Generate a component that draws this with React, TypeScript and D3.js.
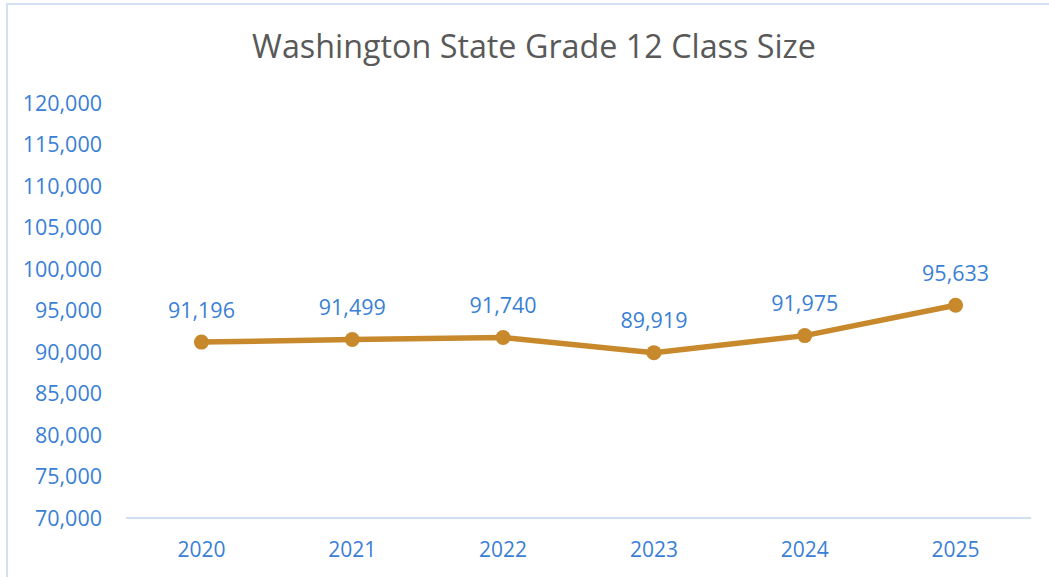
import React, { useRef, useEffect } from 'react';
import * as d3 from 'd3';

const years = ['2020', '2021', '2022', '2023', '2024', '2025'];
const classSize = [91196, 91499, 91740, 89919, 91975, 95633];
const yTicks = [70000, 75000, 80000, 85000, 90000, 95000, 100000, 105000, 110000, 115000, 120000];

const App = () => {
  const ref = useRef<SVGSVGElement | null>(null);

  useEffect(() => {
    if (!ref.current) return;
    const width = 1049;
    const height = 577;
    const blue = '#3a7fd5';
    const font = '"Open Sans", sans-serif';

    const svg = d3.select(ref.current);
    svg.selectAll('*').remove();
    svg.attr('width', width).attr('height', height);

    svg.append('rect')
      .attr('x', 0).attr('y', 0).attr('width', width).attr('height', height)
      .attr('fill', '#fff');

    // chart border
    svg.append('rect')
      .attr('x', 7).attr('y', 4).attr('width', 1060).attr('height', 600)
      .attr('fill', 'none').attr('stroke', '#d3e2f2').attr('stroke-width', 2);

    const x = d3.scaleBand<string>().domain(years).range([126, 1031]);
    const y = d3.scaleLinear().domain([70000, 120000]).range([518, 103]);

    svg.append('text')
      .attr('x', 534).attr('y', 58)
      .attr('text-anchor', 'middle')
      .style('font-family', font)
      .style('font-size', '32.3px')
      .style('fill', '#595959')
      .text('Washington State Grade 12 Class Size');

    // y tick labels
    svg.append('g').selectAll('text')
      .data(yTicks)
      .join('text')
      .attr('x', 102)
      .attr('y', d => y(d))
      .attr('dy', '0.36em')
      .attr('text-anchor', 'end')
      .style('font-family', font)
      .style('font-size', '21.5px')
      .style('fill', blue)
      .text(d => d3.format(',')(d));

    // x axis line
    svg.append('line')
      .attr('x1', 126).attr('x2', 1031)
      .attr('y1', y(70000)).attr('y2', y(70000))
      .attr('stroke', '#cfdff0').attr('stroke-width', 2);

    svg.append('g').selectAll('text')
      .data(years)
      .join('text')
      .attr('x', d => x(d)! + x.bandwidth() / 2)
      .attr('y', 557)
      .attr('text-anchor', 'middle')
      .style('font-family', font)
      .style('font-size', '21px')
      .style('fill', blue)
      .text(d => d);

    const pts = years.map((yr, i) => ({ yr, v: classSize[i] }));
    const line = d3.line<{ yr: string; v: number }>()
      .x(d => x(d.yr)! + x.bandwidth() / 2)
      .y(d => y(d.v));

    svg.append('path')
      .datum(pts)
      .attr('d', line)
      .attr('fill', 'none')
      .attr('stroke', '#c8892c')
      .attr('stroke-width', 5.5)
      .attr('stroke-linejoin', 'round');

    svg.append('g').selectAll('circle')
      .data(pts)
      .join('circle')
      .attr('cx', d => x(d.yr)! + x.bandwidth() / 2)
      .attr('cy', d => y(d.v))
      .attr('r', 7.5)
      .attr('fill', '#c8892c');

    svg.append('g').selectAll('text')
      .data(pts)
      .join('text')
      .attr('x', d => x(d.yr)! + x.bandwidth() / 2)
      .attr('y', d => y(d.v) - 32)
      .attr('dy', '0.36em')
      .attr('text-anchor', 'middle')
      .style('font-family', font)
      .style('font-size', '21.5px')
      .style('fill', blue)
      .text(d => d3.format(',')(d.v));
  }, []);

  return (
    <div style={{ position: 'absolute', left: 0, top: 0 }}>
      <svg ref={ref} style={{ display: 'block' }} />
    </div>
  );
};

export default App;
